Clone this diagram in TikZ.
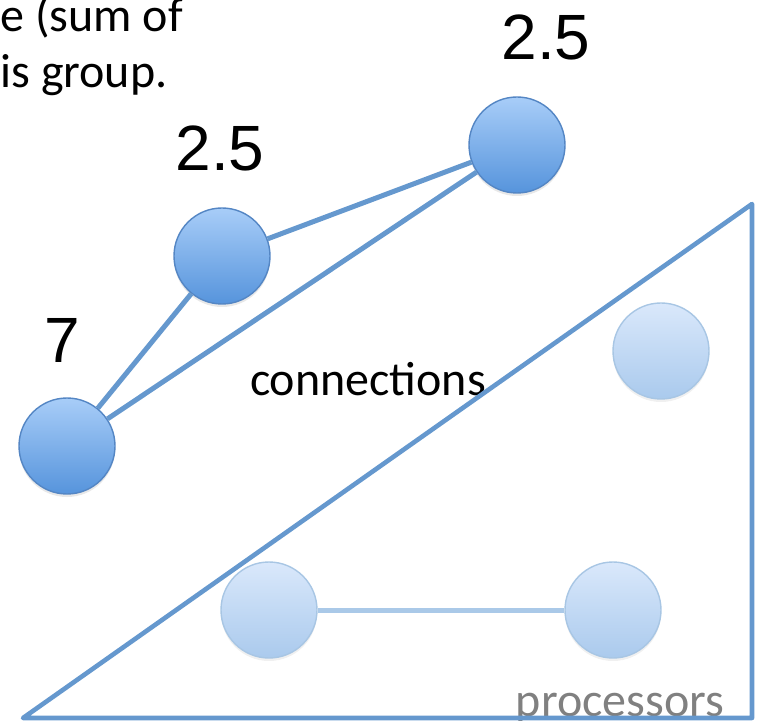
\documentclass[tikz,border=0pt]{standalone}
\usepackage{fontspec}
\setmainfont{Carlito}
\newfontfamily\numfont{Liberation Sans}
\usetikzlibrary{shadows}
\definecolor{edgeblue}{RGB}{101,152,206}
\definecolor{linkpale}{RGB}{170,201,232}
\definecolor{nodetop}{RGB}{168,205,248}
\definecolor{nodebot}{RGB}{86,148,220}
\definecolor{nodeline}{RGB}{84,134,196}
\definecolor{proctop}{RGB}{218,232,251}
\definecolor{procbot}{RGB}{170,202,237}
\definecolor{procline}{RGB}{168,198,228}
\definecolor{labelgray}{RGB}{128,128,128}

\begin{document}
\begin{tikzpicture}[x=0.5pt, y=-0.5pt,
    group/.style={circle, minimum size=48pt, inner sep=0pt, line width=0.7pt,
      draw=nodeline, top color=nodetop, bottom color=nodebot,
      drop shadow={opacity=0.18, shadow xshift=0pt, shadow yshift=-1.5pt}},
    proc/.style={circle, minimum size=48pt, inner sep=0pt, line width=0.7pt,
      draw=procline, top color=proctop, bottom color=procbot,
      drop shadow={opacity=0.12, shadow xshift=0pt, shadow yshift=-1.5pt}},
    link/.style={draw=edgeblue, line width=2.5pt},
    palelink/.style={draw=linkpale, line width=2.5pt},
    weight/.style={font=\numfont\fontsize{32}{38}\selectfont, inner sep=0pt, anchor=base},
    caption/.style={font=\fontsize{24}{29}\selectfont, inner sep=0pt}
  ]
  \clip (0,0) rectangle (760,721);

  \node[caption, anchor=base west] (note1) at (0,32) {e (sum of};
  \node[caption, anchor=base west] (note2) at (0,88) {is group.};

  \node[group] (g1) at (67,446) {};
  \node[group] (g2) at (222,256) {};
  \node[group] (g3) at (517,145) {};

  \node[weight] (w1) at (62,363) {7};
  \node[weight] (w2) at (220,171) {2.5};
  \node[weight] (w3) at (546,60) {2.5};

  \draw[link] (g1) -- (g2);
  \draw[link] (g1) -- (g3);
  \draw[link] (g2) -- (g3);

  \node[caption, anchor=base] (conn) at (368,395) {connections};

  \node[proc] (p1) at (661,351) {};
  \node[proc] (p2) at (269,610) {};
  \node[proc] (p3) at (613,610) {};
  \draw[palelink] (p2) -- (p3);

  \node[caption, anchor=base, text=labelgray] (procs) at (620,716) {processors};

  \draw[edgeblue, line width=2.3pt, line join=round]
    (23,718) -- (752,204) -- (752,718) -- cycle;
\end{tikzpicture}
\end{document}
